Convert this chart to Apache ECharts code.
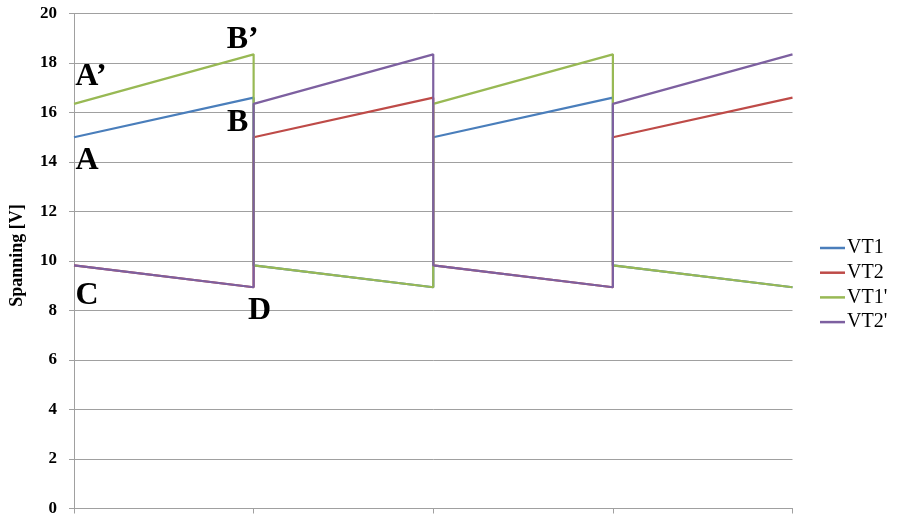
<!DOCTYPE html>
<html>
<head>
<meta charset="utf-8">
<script src="https://cdn.jsdelivr.net/npm/echarts@6/dist/echarts.min.js"></script>
<style>
html,body{margin:0;padding:0;background:#fff;}
#c{width:898px;height:519px;}
</style>
</head>
<body>
<div id="c"></div>
<script>
// ---- data ----
const xValues = [0, 1, 1, 2, 2, 3, 3, 4];
const vt1  = [15.0, 16.6, 9.82, 8.94, 15.0, 16.6, 9.82, 8.94];
const vt2  = [9.82, 8.94, 15.0, 16.6, 9.82, 8.94, 15.0, 16.6];
const vt1p = [16.35, 18.35, 9.82, 8.94, 16.35, 18.35, 9.82, 8.94];
const vt2p = [9.82, 8.94, 16.35, 18.35, 9.82, 8.94, 16.35, 18.35];
const seriesNames = ['VT1', 'VT2', "VT1'", "VT2'"];
const yTicks = [0, 2, 4, 6, 8, 10, 12, 14, 16, 18, 20];
const yAxisName = 'Spanning [V]';

const colors = ['#4a7ebb', '#be4b48', '#98b954', '#7d60a0'];
const serif = '"Liberation Serif","DejaVu Serif",serif';

function pts(vals) { return xValues.map((x, i) => [x, vals[i]]); }
function mark(name, vals, idx, offset) {
  return {
    coord: [xValues[idx], vals[idx]],
    symbolSize: 0,
    label: {
      show: true, formatter: name, position: 'inside', offset: offset,
      fontFamily: serif, fontWeight: 'bold', fontSize: 32, color: '#000'
    }
  };
}

const allVals = [vt1, vt2, vt1p, vt2p];
const marks = [
  [mark('A', vt1, 0, [13, 23]), mark('B', vt1, 1, [-16, 25])],
  [],
  [mark('A\u2019', vt1p, 0, [17, -27]), mark('B\u2019', vt1p, 1, [-11, -15])],
  [mark('C', vt2p, 0, [13, 30]), mark('D', vt2p, 1, [6, 23])]
];

const chart = echarts.init(document.getElementById('c'), null, {renderer: 'canvas'});
chart.setOption({
  animation: false,
  backgroundColor: '#fff',
  color: colors,
  grid: {left: 72.5, top: 13.5, width: 720, height: 495, containLabel: false},
  legend: {
    orient: 'vertical', left: 815, top: 233,
    itemWidth: 25, itemHeight: 2.5, itemGap: 4.7, icon: 'rect',
    data: seriesNames,
    textStyle: {fontFamily: serif, fontSize: 20, color: '#000', lineHeight: 20, padding: [0, 0, 0, -3]}
  },
  xAxis: {
    type: 'value', min: 0, max: 4, interval: 1,
    axisLine: {show: true, lineStyle: {color: '#a0a0a0', width: 1}},
    axisTick: {show: true, length: 5, lineStyle: {color: '#a0a0a0'}},
    axisLabel: {show: false},
    splitLine: {show: false}
  },
  yAxis: {
    type: 'value', min: yTicks[0], max: yTicks[yTicks.length - 1], interval: 2,
    name: yAxisName, nameLocation: 'middle', nameGap: 48, nameRotate: 90,
    nameTextStyle: {fontFamily: serif, fontWeight: 'bold', fontSize: 18, color: '#000', padding: [0, 0, 0, 11]},
    axisLine: {show: true, lineStyle: {color: '#a0a0a0', width: 1}},
    axisTick: {show: true, length: 5, lineStyle: {color: '#a0a0a0'}},
    axisLabel: {margin: 17, fontFamily: serif, fontWeight: 'bold', fontSize: 17, color: '#000'},
    splitLine: {show: true, lineStyle: {color: '#a0a0a0', width: 1}}
  },
  series: seriesNames.map((n, i) => ({
    name: n, type: 'line', data: pts(allVals[i]),
    showSymbol: false, symbol: 'none',
    lineStyle: {width: 2.2, color: colors[i]},
    itemStyle: {color: colors[i]},
    markPoint: {symbol: 'circle', symbolSize: 0, data: marks[i], silent: true}
  }))
});
</script>
</body>
</html>
